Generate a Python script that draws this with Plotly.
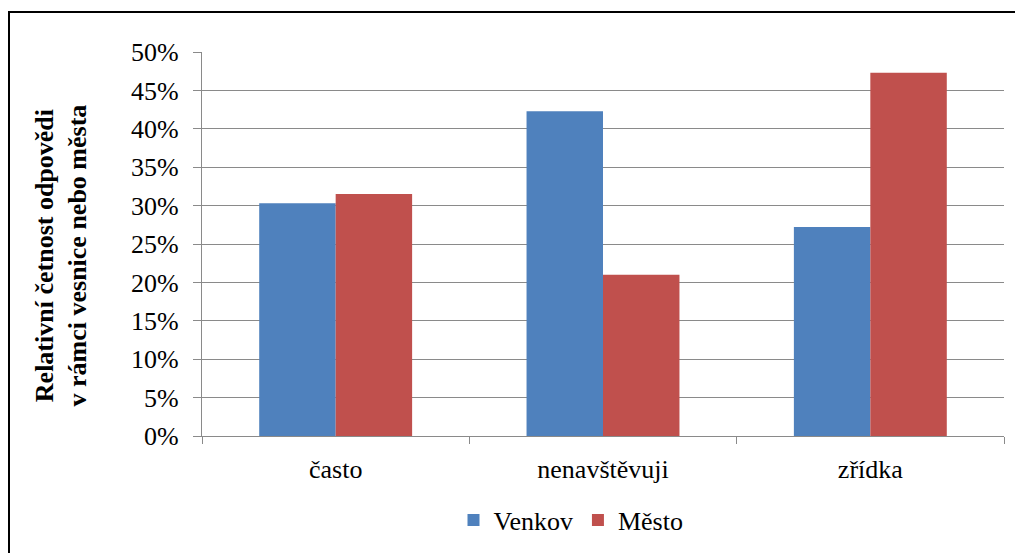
import plotly.graph_objects as go

# Survey answers and relative frequencies per group
categories = ["často", "nenavštěvuji", "zřídka"]
venkov = [0.303, 0.423, 0.272]
mesto = [0.315, 0.210, 0.473]
y_ticks = [0, 0.05, 0.10, 0.15, 0.20, 0.25, 0.30, 0.35, 0.40, 0.45, 0.50]
y_tick_labels = ["0%", "5%", "10%", "15%", "20%", "25%", "30%", "35%", "40%", "45%", "50%"]

FONT = "Liberation Serif"
W, H = 1015, 553
ML, MR, MT, MB = 202, 11, 52, 116
PW = W - ML - MR
PH = H - MT - MB

fig = go.Figure()
fig.add_trace(go.Bar(name="Venkov", x=categories, y=venkov, marker_color="#4F81BD",
                     marker_line_width=0))
fig.add_trace(go.Bar(name="Město", x=categories, y=mesto, marker_color="#C0504D",
                     marker_line_width=0))

fig.update_layout(
    width=W, height=H,
    margin=dict(l=ML, r=MR, t=MT, b=MB, pad=0),
    paper_bgcolor="white", plot_bgcolor="white",
    barmode="group", bargap=0.428, bargroupgap=0,
    font=dict(family=FONT, size=26, color="black"),
    showlegend=True,
    legend=dict(orientation="h", x=(571 - ML) / PW, xanchor="center",
                y=(MT + PH - 520) / PH, yanchor="middle",
                font=dict(family=FONT, size=26, color="black"),
                itemwidth=30, bgcolor="rgba(0,0,0,0)"),
)

fig.update_yaxes(
    range=[0, 0.5], tickvals=y_ticks, ticktext=y_tick_labels,
    showgrid=True, gridcolor="#8a8a8a", gridwidth=1.4,
    showline=True, linecolor="#8a8a8a", linewidth=1.4,
    ticks="outside", ticklen=8, tickcolor="#8a8a8a", tickwidth=1.4,
    ticklabelstandoff=9,
    tickfont=dict(family=FONT, size=26, color="black"),
    zeroline=False,
)
fig.update_xaxes(
    showline=True, linecolor="#8a8a8a", linewidth=1.4,
    ticks="outside", tickson="boundaries", ticklen=7, tickcolor="#8a8a8a", tickwidth=1.4,
    ticklabelstandoff=10,
    tickfont=dict(family=FONT, size=26, color="black"),
    showgrid=False,
)

# Two-line rotated y-axis title
fig.add_annotation(
    text="<b>Relativní četnost odpovědi</b><br><b>v rámci vesnice nebo města</b>",
    xref="paper", yref="paper",
    x=(61 - ML) / PW, y=(MT + PH - 256) / PH,
    xanchor="center", yanchor="middle",
    textangle=-90, showarrow=False,
    font=dict(family=FONT, size=26, color="black"),
)

# Chart frame
fig.add_shape(type="rect", xref="paper", yref="paper",
              x0=(9 - ML) / PW, x1=(W + 5 - ML) / PW,
              y0=(MT + PH - 12) / PH, y1=(MT + PH - (H + 5)) / PH,
              line=dict(color="black", width=2), layer="above")

fig.write_html("out.html")
